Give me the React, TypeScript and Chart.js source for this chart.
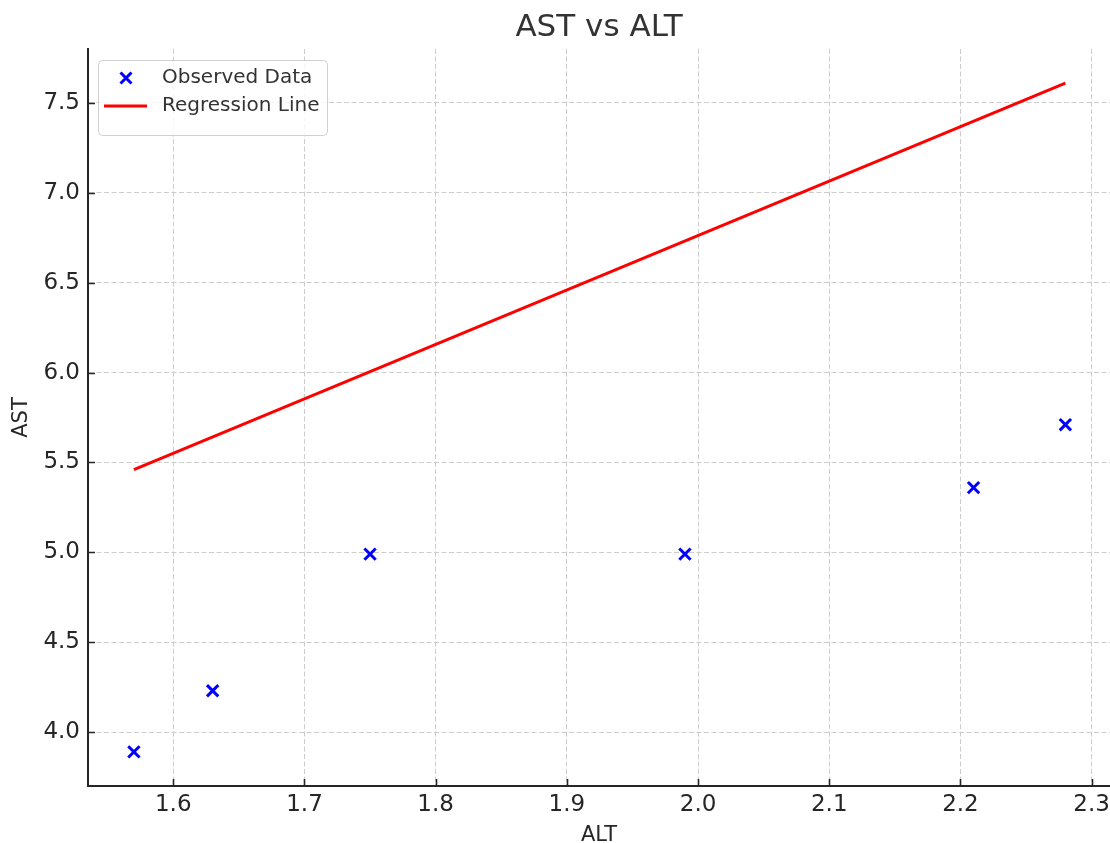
import React, { useEffect, useRef } from "react";
import { Chart, registerables } from "chart.js";

Chart.register(...registerables);

const altValues = [1.57, 1.63, 1.75, 1.99, 2.21, 2.28];
const astValues = [3.89, 4.23, 4.99, 4.99, 5.36, 5.71];
const regressionX = [1.57, 2.28];
const regressionY = [5.46, 7.61];
const xRange = [1.535, 2.314];
const yRange = [3.7, 7.8];
const legendLabels = ["Observed Data", "Regression Line"];

const FONT = "'DejaVu Sans', 'Liberation Sans', sans-serif";
const TICK_COLOR = "#262626";

const innerTicks = {
  id: "innerTicks",
  afterDatasetsDraw(chart: any) {
    const ctx = chart.ctx;
    const { left, bottom } = chart.chartArea;
    const xs = chart.scales.x;
    const ys = chart.scales.y;
    ctx.save();
    ctx.strokeStyle = TICK_COLOR;
    ctx.lineWidth = 1.6;
    ctx.beginPath();
    xs.ticks.forEach((t: any) => {
      const px = Math.round(xs.getPixelForValue(t.value)) + 0.5;
      ctx.moveTo(px, bottom);
      ctx.lineTo(px, bottom - 7);
    });
    ys.ticks.forEach((t: any) => {
      const py = Math.round(ys.getPixelForValue(t.value)) + 0.5;
      ctx.moveTo(left, py);
      ctx.lineTo(left + 7, py);
    });
    ctx.stroke();
    ctx.restore();
  },
};

const boxLegend = {
  id: "boxLegend",
  afterDraw(chart: any) {
    const ctx = chart.ctx;
    const { left, top } = chart.chartArea;
    const bx = left + 10;
    const by = top + 11;
    const bw = 229;
    const bh = 75;
    ctx.save();
    ctx.beginPath();
    if (ctx.roundRect) ctx.roundRect(bx + 0.5, by + 0.5, bw, bh, 4);
    else ctx.rect(bx + 0.5, by + 0.5, bw, bh);
    ctx.fillStyle = "rgba(255,255,255,0.8)";
    ctx.fill();
    ctx.strokeStyle = "#d0d0d0";
    ctx.lineWidth = 1;
    ctx.stroke();

    const row1 = by + 18;
    const row2 = by + 46;
    const mx = bx + 28;
    const r = 5.5;
    ctx.strokeStyle = "#0000ff";
    ctx.lineWidth = 3;
    ctx.beginPath();
    ctx.moveTo(mx - r, row1 - r);
    ctx.lineTo(mx + r, row1 + r);
    ctx.moveTo(mx - r, row1 + r);
    ctx.lineTo(mx + r, row1 - r);
    ctx.stroke();
    ctx.strokeStyle = "#ff0000";
    ctx.lineWidth = 3;
    ctx.beginPath();
    ctx.moveTo(bx + 6, row2);
    ctx.lineTo(bx + 49, row2);
    ctx.stroke();

    ctx.fillStyle = "#333333";
    ctx.font = `20px ${FONT}`;
    ctx.textBaseline = "middle";
    ctx.textAlign = "left";
    ctx.fillText(legendLabels[0], bx + 64, row1);
    ctx.fillText(legendLabels[1], bx + 64, row2);
    ctx.restore();
  },
};

export default function App() {
  const ref = useRef<HTMLCanvasElement | null>(null);

  useEffect(() => {
    if (!ref.current) return;
    const chart = new Chart(ref.current, {
      type: "scatter",
      data: {
        datasets: [
          {
            label: legendLabels[0],
            data: altValues.map((x, i) => ({ x, y: astValues[i] })),
            pointStyle: "crossRot",
            pointRadius: 8,
            pointHoverRadius: 8,
            borderColor: "#0000ff",
            backgroundColor: "#0000ff",
            borderWidth: 3,
            pointBorderWidth: 3,
            order: 1,
          },
          {
            label: legendLabels[1],
            type: "line",
            data: regressionX.map((x, i) => ({ x, y: regressionY[i] })),
            borderColor: "#ff0000",
            borderWidth: 3,
            pointRadius: 0,
            showLine: true,
            fill: false,
            order: 2,
          } as any,
        ],
      },
      options: {
        animation: false,
        responsive: true,
        maintainAspectRatio: false,
        layout: { padding: 0, autoPadding: false },
        plugins: {
          legend: { display: false },
          tooltip: { enabled: false },
          title: {
            display: true,
            fullSize: false,
            text: "AST vs ALT",
            color: "#333333",
            font: { family: FONT, size: 31, weight: "normal", lineHeight: 1.2 },
            padding: { top: 9.4, bottom: 2.4 },
          },
        },
        scales: {
          x: {
            type: "linear",
            min: xRange[0],
            max: xRange[1],
            afterFit(scale: any) {
              scale.height = 57;
              scale.paddingLeft = 0;
              scale.paddingRight = 0;
            },
            ticks: {
              stepSize: 0.1,
              includeBounds: false,
              color: TICK_COLOR,
              font: { family: FONT, size: 23 },
              padding: 5,
              maxRotation: 0,
              autoSkip: false,
              callback: (v: any) => Number(v).toFixed(1),
            },
            grid: {
              color: "#cccccc",
              lineWidth: 1,
              drawTicks: false,
            },
            border: { display: true, color: TICK_COLOR, width: 2, dash: [5, 2.5] },
            title: {
              display: true,
              text: "ALT",
              color: TICK_COLOR,
              font: { family: FONT, size: 21, lineHeight: 1 },
              padding: { top: 0, bottom: -3.5 },
            },
          },
          y: {
            type: "linear",
            min: yRange[0],
            max: yRange[1],
            afterFit(scale: any) {
              scale.width = 88;
              scale.paddingTop = 0;
              scale.paddingBottom = 0;
            },
            ticks: {
              stepSize: 0.5,
              includeBounds: false,
              color: TICK_COLOR,
              font: { family: FONT, size: 23 },
              padding: 8,
              autoSkip: false,
              callback: (v: any) => Number(v).toFixed(1),
            },
            grid: {
              color: "#cccccc",
              lineWidth: 1,
              drawTicks: false,
            },
            border: { display: true, color: TICK_COLOR, width: 2, dash: [5, 2.5] },
            title: {
              display: true,
              text: "AST",
              color: TICK_COLOR,
              font: { family: FONT, size: 21, lineHeight: 1 },
              padding: { top: 11.5, bottom: 0 },
            },
          },
        },
      },
      plugins: [innerTicks, boxLegend],
    });
    return () => chart.destroy();
  }, []);

  return (
    <div style={{ position: "fixed", left: 0, top: 0, width: 1110, height: 843, background: "#fff" }}>
      <canvas ref={ref} />
    </div>
  );
}
